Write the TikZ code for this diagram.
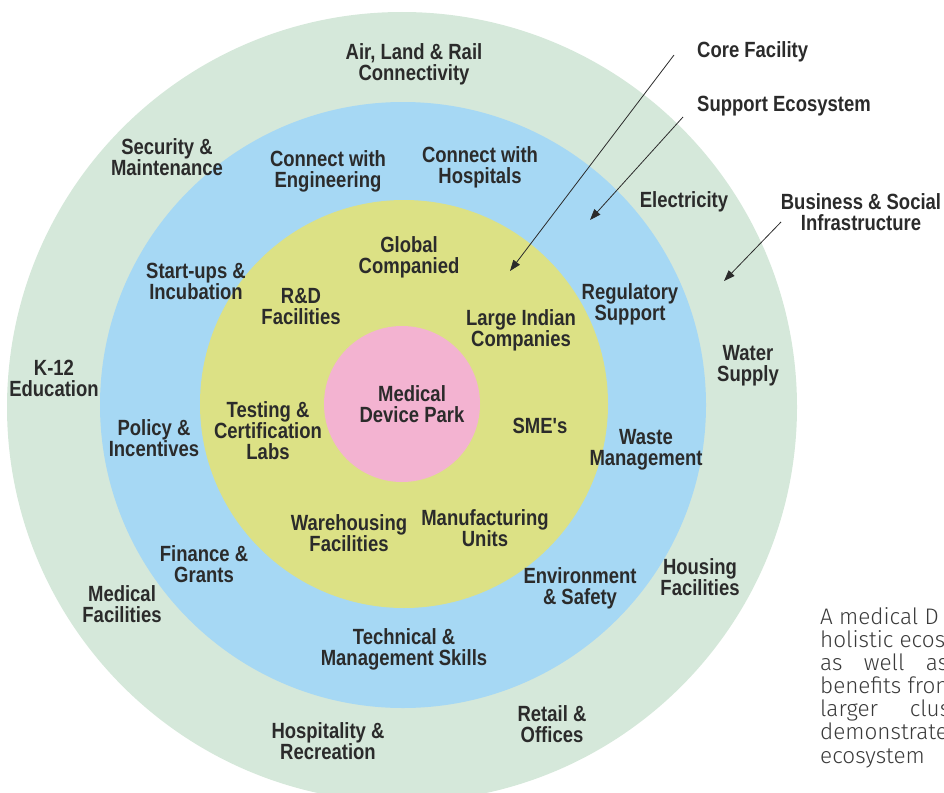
\documentclass[tikz,border=0pt]{standalone}
\usepackage{fontspec}
\setmainfont{Liberation Sans}
\newfontfamily\condfont{Liberation Sans}[FakeStretch=0.84]
\newfontfamily\parafont{Fira Sans}[UprightFont=* Light]
\usetikzlibrary{arrows.meta}
\definecolor{ringgreen}{HTML}{D5E8DA}
\definecolor{ringblue}{HTML}{A6D8F4}
\definecolor{ringyellow}{HTML}{DCE185}
\definecolor{ringpink}{HTML}{F3B3D1}
\definecolor{labelgray}{HTML}{2B2B2B}
\definecolor{paragray}{HTML}{3A3A3A}
\tikzset{>/.tip={Triangle[length=11pt,width=8pt]},
  lbl/.style={align=center, inner sep=0pt, text=labelgray,
    font=\condfont\bfseries\fontsize{22}{21}\selectfont},
  para/.style={anchor=base west, inner sep=0pt, text=paragray,
    font=\parafont\fontsize{22.5}{23}\selectfont}}

\begin{document}
\begin{tikzpicture}[x=1pt,y=-1pt]
\useasboundingbox (0,0) rectangle (944,792);
\clip (0,0) rectangle (944,792);
% rings
\fill[ringgreen]  (402,407) circle (395);
\fill[ringblue]   (403,405) circle (303);
\fill[ringyellow] (404,404) circle (204);
\fill[ringpink]   (402,404) circle (78);

% outer ring
\node[lbl] (air)   at (414,64)  {Air, Land \& Rail\\Connectivity};
\node[lbl] (secm)  at (167,157) {Security \&\\Maintenance};
\node[lbl] (elec)  at (684,202) {Electricity};
\node[lbl] (water) at (748,366) {Water\\Supply};
\node[lbl] (k12)   at (54,378)  {K-12\\Education};
\node[lbl] (hous)  at (700,577) {Housing\\Facilities};
\node[lbl] (medf)  at (122,604) {Medical\\Facilities};
\node[lbl] (ret)   at (552,724) {Retail \&\\Offices};
\node[lbl] (hosp)  at (328,741) {Hospitality \&\\Recreation};

% support ring
\node[lbl] (ceng)  at (328,171) {Connect with\\Engineering};
\node[lbl] (chos)  at (480,167) {Connect with\\Hospitals};
\node[lbl] (start) at (196,281) {Start-ups \&\\Incubation};
\node[lbl] (reg)   at (630,304) {Regulatory\\Support};
\node[lbl] (pol)   at (154,438) {Policy \&\\Incentives};
\node[lbl] (waste) at (646,450) {Waste\\Management};
\node[lbl] (fin)   at (204,564) {Finance \&\\Grants};
\node[lbl] (env)   at (580,588) {Environment\\\& Safety};
\node[lbl] (tech)  at (404,649) {Technical \&\\Management Skills};

% core ring
\node[lbl] (glob)  at (409,257) {Global\\Companied};
\node[lbl] (rd)    at (301,306) {R\&D\\Facilities};
\node[lbl] (lic)   at (521,330) {Large Indian\\Companies};
\node[lbl] (test)  at (268,431) {Testing \&\\Certification\\Labs};
\node[lbl] (sme)   at (540,426) {SME's};
\node[lbl] (ware)  at (349,533) {Warehousing\\Facilities};
\node[lbl] (manu)  at (485,528) {Manufacturing\\Units};
\node[lbl] (park)  at (412,404) {Medical\\Device Park};

% legend
\node[lbl, anchor=west] (core) at (697,52)  {Core Facility};
\node[lbl, anchor=west] (supp) at (697,106) {Support Ecosystem};
\node[lbl] (bsi) at (861,212) {Business \& Social\\Infrastructure};
\coordinate (coreS) at (674,55);
\coordinate (coreE) at (510,271);
\coordinate (suppS) at (683,117);
\coordinate (suppE) at (590,220);
\coordinate (bsiS)  at (781,222);
\coordinate (bsiE)  at (724,281);
\draw[->, labelgray, line width=0.8pt] (coreS) -- (coreE);
\draw[->, labelgray, line width=0.8pt] (suppS) -- (suppE);
\draw[->, labelgray, line width=0.8pt] (bsiS) -- (bsiE);

% side text
\node[para] (p1) at (820,624) {A medical D};
\node[para] (p2) at (820,647) {holistic ecos};
\node[para] (p3) at (820,670) {\makebox[128pt][s]{as well as}};
\node[para] (p4) at (820,693) {benefits fron};
\node[para] (p5) at (820,716) {\makebox[130pt][s]{larger clus}};
\node[para] (p6) at (820,739) {demonstrate};
\node[para] (p7) at (820,763) {ecosystem};
\end{tikzpicture}
\end{document}
